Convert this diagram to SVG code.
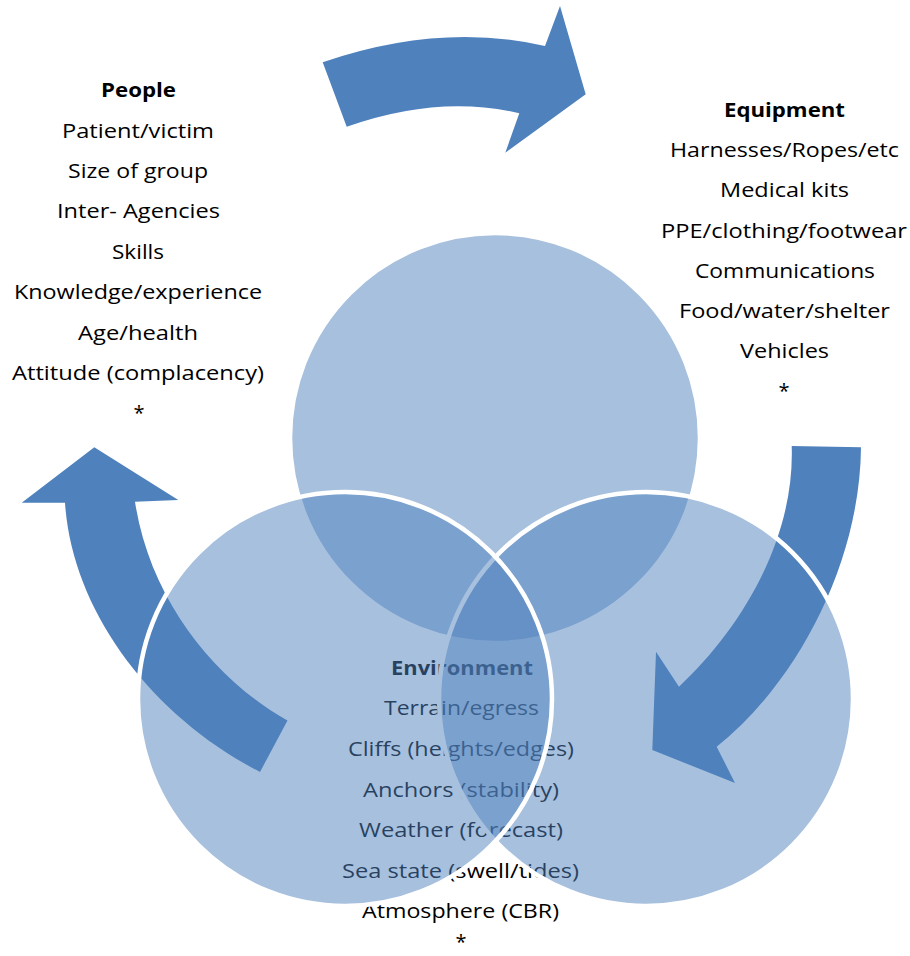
<svg xmlns="http://www.w3.org/2000/svg" width="910" height="956" viewBox="0 0 910 956">
<style>
  .arrow { fill: #4F81BD; stroke: none; }
  .venn { fill: #4F81BD; fill-opacity: 0.5; stroke: #FFFFFF; stroke-width: 4.5; }
  text { font-family: "Open Sans", "Liberation Sans", sans-serif; font-size: 20px; fill: #000000; }
  .h { font-weight: bold; }
  .c { text-anchor: middle; }
</style>
<rect x="0" y="0" width="910" height="956" fill="#FFFFFF"/>

<g id="connectors">
  <path id="arrow-top" class="arrow" d="M322.7,62.3 Q440,22 545,46 L560,6 L585.7,94.3 L505.3,152.7 L519.3,113.3 Q439,94 346.7,126.7 Z"/>
  <path id="arrow-right" class="arrow" d="M791.7,446 L861,447.3 C860,560 800,680 716.7,746.7 L735,783 L652.3,750 L656,651.7 L679,686.7 C740,630 795,540 791.7,446 Z"/>
  <path id="arrow-left" class="arrow" d="M260,772 C150,715 72,610 65,502.7 L21.7,502.7 L94.3,447.3 L178.3,500 L135,501.7 C150,600 215,680 287.5,720.5 Z"/>
</g>

<g id="people">
  <text class="h" x="101" y="97" textLength="75" lengthAdjust="spacingAndGlyphs">People</text>
  <text x="62" y="137.5" textLength="152" lengthAdjust="spacingAndGlyphs">Patient/victim</text>
  <text x="68" y="178" textLength="140" lengthAdjust="spacingAndGlyphs">Size of group</text>
  <text x="57" y="218" textLength="163" lengthAdjust="spacingAndGlyphs">Inter- Agencies</text>
  <text x="112" y="258.5" textLength="52" lengthAdjust="spacingAndGlyphs">Skills</text>
  <text x="14" y="299" textLength="248" lengthAdjust="spacingAndGlyphs">Knowledge/experience</text>
  <text x="78" y="339.5" textLength="120" lengthAdjust="spacingAndGlyphs">Age/health</text>
  <text x="12" y="380" textLength="252" lengthAdjust="spacingAndGlyphs">Attitude (complacency)</text>
  <text class="c" x="139" y="420">*</text>
</g>

<g id="equipment">
  <text class="h" x="724" y="117" textLength="121" lengthAdjust="spacingAndGlyphs">Equipment</text>
  <text x="670" y="157" textLength="229" lengthAdjust="spacingAndGlyphs">Harnesses/Ropes/etc</text>
  <text x="720" y="197" textLength="129" lengthAdjust="spacingAndGlyphs">Medical kits</text>
  <text x="661" y="238" textLength="246" lengthAdjust="spacingAndGlyphs">PPE/clothing/footwear</text>
  <text x="695" y="278" textLength="180" lengthAdjust="spacingAndGlyphs">Communications</text>
  <text x="679" y="318" textLength="211" lengthAdjust="spacingAndGlyphs">Food/water/shelter</text>
  <text x="740" y="358" textLength="89" lengthAdjust="spacingAndGlyphs">Vehicles</text>
  <text class="c" x="784" y="398">*</text>
</g>

<g id="environment">
  <text class="h" x="391" y="675" textLength="142" lengthAdjust="spacingAndGlyphs">Environment</text>
  <text x="384" y="715" textLength="155" lengthAdjust="spacingAndGlyphs">Terrain/egress</text>
  <text x="348" y="756" textLength="226" lengthAdjust="spacingAndGlyphs">Cliffs (heights/edges)</text>
  <text x="363" y="796.5" textLength="196" lengthAdjust="spacingAndGlyphs">Anchors (stability)</text>
  <text x="359" y="837" textLength="204" lengthAdjust="spacingAndGlyphs">Weather (forecast)</text>
  <text x="342" y="877.5" textLength="237" lengthAdjust="spacingAndGlyphs">Sea state (swell/tides)</text>
  <text x="362" y="918" textLength="197" lengthAdjust="spacingAndGlyphs">Atmosphere (CBR)</text>
  <text class="c" x="461" y="949">*</text>
</g>

<g id="circle-top"><circle class="venn" cx="495" cy="438" r="205"/></g>
<g id="circle-right"><circle class="venn" cx="646" cy="699" r="207"/></g>
<g id="circle-left"><circle class="venn" cx="345" cy="699" r="207"/></g>
</svg>
